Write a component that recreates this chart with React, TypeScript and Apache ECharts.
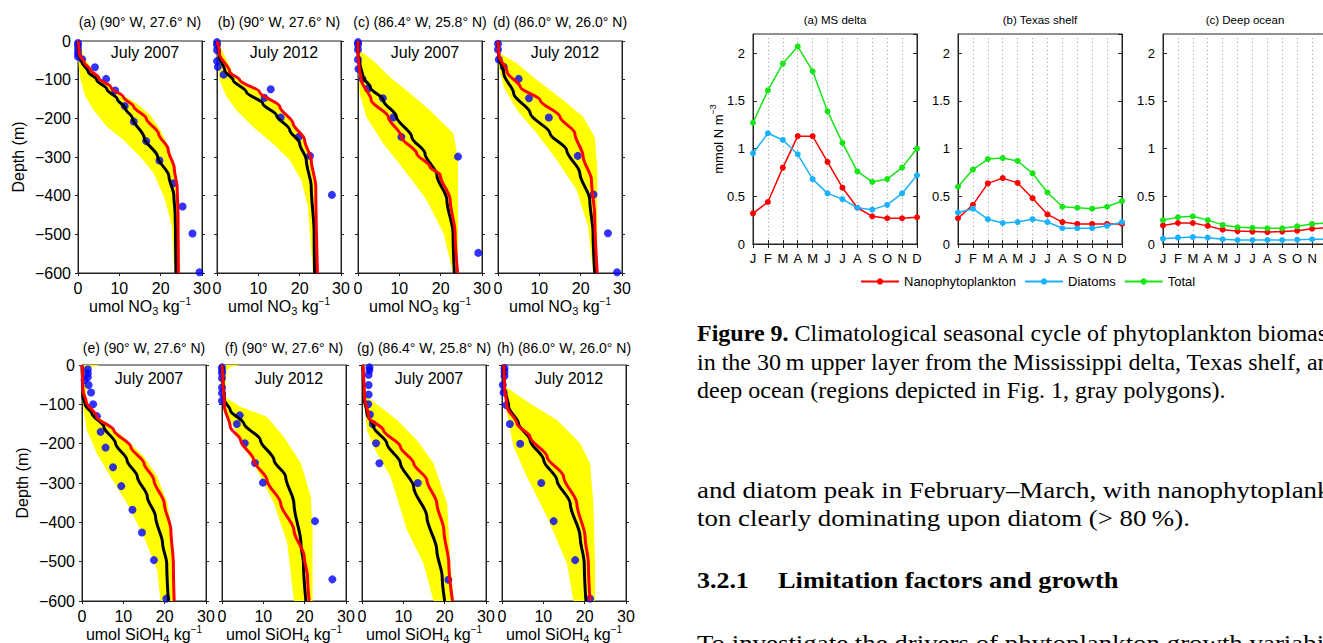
import React, { useEffect, useRef } from 'react';
import * as echarts from 'echarts';

const SANS = 'Liberation Sans, Arial, Helvetica, sans-serif';
const SERIF = 'Liberation Serif, Times New Roman, serif';

// ---------- Profile panels: [concentration, depth (m)] ----------
// (a) NO3, 90W 27.6N, July 2007
const aObs = [[0, -5], [0, -12], [0, -22], [0, -32], [0, -40], [1.0, -47], [4.1, -68], [6.8, -98], [9.0, -128], [11.3, -168], [13.5, -208], [16.5, -259], [19.7, -309], [23.1, -368], [25.3, -428], [27.7, -498], [29.4, -598]];
const aMean = [[0, 0], [0.2, -35], [1, -55], [2.5, -80], [4.5, -100], [7, -125], [9.5, -150], [11.5, -175], [13.2, -200], [16, -250], [19.3, -300], [22, -350], [23.2, -400], [23.5, -450], [23.6, -500], [23.7, -600]];
const aJuly = [[0, 0], [0.3, -35], [1.5, -55], [3, -75], [5, -95], [8, -120], [11, -145], [13.5, -170], [16.5, -200], [19.5, -240], [21.8, -280], [23.3, -330], [24, -380], [24.2, -450], [24.3, -600]];
const aBandL = [[0, 0], [0, -40], [0.2, -67], [0.6, -100], [1.8, -144], [3.8, -179], [7, -222], [11, -256], [15, -299], [18.3, -342], [21.1, -411], [22.7, -480], [23.3, -600]];
const aBandR = [[0.5, 0], [1.4, -41], [3.8, -80], [6.2, -106], [10.2, -136], [14.3, -162], [17.5, -192], [19.9, -230], [21.9, -273], [23.1, -316], [23.8, -377], [24, -450], [24, -600]];

// (b) NO3, 90W 27.6N, July 2012
const bObs = [[0, -3], [0, -11], [0, -24], [0, -52], [0.2, -67], [1.6, -87], [13, -125], [11.5, -147], [15.4, -198], [19.8, -248], [22.5, -297], [27.8, -398]];
const bMean = [[0, 0], [0.6, -41], [1.9, -76], [3.9, -101], [7.1, -132], [11.1, -162], [14.4, -192], [17.6, -230], [20, -265], [21.6, -308], [22.8, -377], [23.5, -497], [23.6, -600]];
const bJuly = [[0, 0], [0.6, -33], [3.1, -80], [5.5, -101], [10.3, -132], [15.2, -170], [18.4, -213], [21.2, -256], [22.8, -308], [23.9, -377], [24.3, -600]];
const bBandL = [[0, 0], [0.2, -58], [0.6, -101], [2.3, -144], [4.7, -179], [8.7, -222], [13.5, -265], [17.6, -308], [20.4, -360], [22, -428], [23.2, -600]];
const bBandR = [[0.8, 0], [0.8, -15], [3.9, -84], [7.1, -110], [11.9, -144], [16, -179], [19.2, -222], [22, -273], [23.6, -342], [24, -411], [24, -600]];

// (c) NO3, 86.4W 25.8N, July 2007
const cObs = [[0, -3], [0, -9], [0, -22], [0, -48], [0.1, -72], [1.1, -98], [2.4, -123], [6, -148], [8.5, -198], [10.5, -248], [24.2, -299], [29.1, -548]];
const cMean = [[0, 0], [0, -33], [0.5, -60], [1.2, -93], [3, -120], [6.1, -153], [9.3, -196], [13, -248], [16.2, -291], [19.1, -347], [21.5, -411], [23, -497], [23.3, -600]];
const cJuly = [[0, 0], [0, -33], [0.3, -70], [0.8, -101], [3.2, -153], [7.3, -196], [10.5, -248], [14.2, -291], [17.4, -325], [19.9, -347], [22.3, -411], [23.5, -497], [24.1, -600]];
const cBandL = [[0, 0], [0, -60], [0.4, -136], [2, -196], [6.1, -265], [11.8, -342], [16.6, -411], [20.7, -497], [23, -600]];
const cBandR = [[0.3, 0], [0.3, -24], [3.6, -50], [7.7, -93], [12.6, -136], [17.4, -179], [23.1, -239], [24.2, -308], [24.2, -600]];

// (d) NO3, 86.0W 26.0N, July 2012
const dObs = [[0, -7], [0, -22], [0.2, -48], [1.4, -67], [5, -98], [7.5, -148], [12.3, -198], [19.3, -297], [23.1, -397], [26.6, -497], [28.8, -598]];
const dMean = [[0, 0], [0.2, -41], [1.4, -84], [3.8, -136], [7.8, -187], [12.6, -239], [16.6, -282], [19.8, -342], [22.2, -411], [23, -497], [23.4, -600]];
const dJuly = [[0, 0], [0.2, -37], [2.2, -80], [5.4, -119], [10.2, -153], [15, -196], [18.6, -239], [20.6, -299], [22.6, -359], [23.4, -454], [24, -600]];
const dBandL = [[0, 0], [0.2, -67], [1.4, -119], [4.6, -179], [9.4, -239], [14.2, -308], [19, -385], [21.8, -480], [23, -600]];
const dBandR = [[0.3, 0], [0.6, -33], [4.6, -58], [9.4, -101], [15.8, -153], [20.6, -196], [23.4, -248], [24, -325], [24, -600]];

// (e) SiOH4, 90W 27.6N, July 2007
const eObs = [[1.4, -11], [1.4, -21], [1.4, -31], [0.6, -38], [1.6, -51], [2.2, -70], [2.7, -100], [3.6, -130], [4.5, -170], [5.7, -210], [7.5, -260], [9.5, -308], [12.2, -368], [14.5, -426], [17.4, -496], [20.4, -594]];
const eMean = [[0, 0], [0.2, -81], [0.8, -102], [2.4, -123], [5.3, -157], [8.1, -199], [10.9, -242], [13.4, -284], [15.8, -335], [17.8, -386], [19.5, -454], [20.5, -505], [20.9, -600]];
const eJuly = [[0, 0], [0.2, -64], [1, -93], [3.6, -132], [7.7, -166], [11.8, -208], [15, -250], [17.4, -293], [19.9, -352], [21.5, -420], [22.1, -505], [22.3, -600]];
const eBandL = [[0, 0], [0, -80], [0.4, -115], [1.2, -166], [3.6, -225], [6.9, -284], [10.9, -352], [15, -437], [18.2, -522], [19, -600]];
const eBandR = [[4.5, 0], [2, -6], [1.4, -15], [1.2, -40], [1, -81], [2, -115], [6.1, -149], [10.9, -191], [15, -233], [18.2, -284], [20.7, -352], [21.9, -437], [22.3, -600]];

// (f) SiOH4, 90W 27.6N, July 2012
const fObs = [[0, -6], [0, -13], [0, -21], [0, -34], [0, -57], [0, -72], [0, -91], [4.3, -128], [3.6, -150], [5.5, -199], [8, -249], [9.9, -299], [22.5, -397], [26.7, -545]];
const fMean = [[0, 0], [0.2, -38], [0.6, -89], [2, -115], [5.3, -149], [9.3, -191], [12.6, -242], [15.4, -284], [17.4, -352], [19.1, -454], [19.7, -505], [20.3, -600]];
const fJuly = [[0, 0], [0.2, -38], [0.6, -106], [2, -157], [4.5, -191], [7.7, -242], [10.9, -293], [14.2, -352], [17.4, -420], [19.9, -488], [20.7, -539], [21.1, -600]];
const fBandL = [[0, 0], [0, -60], [0.2, -81], [1.2, -123], [4.5, -191], [8.5, -267], [12.6, -352], [15.8, -454], [17.4, -600]];
const fBandR = [[4.5, 0], [2, -6], [1.2, -13], [0.6, -81], [4.5, -106], [10.9, -132], [15, -183], [19.1, -250], [21.5, -335], [21.9, -420], [21.9, -600]];

// (g) SiOH4, 86.4W 25.8N, July 2007
const gObs = [[1.8, -6], [1.8, -13], [1.6, -25], [1.6, -51], [1.6, -75], [1.5, -100], [1.9, -126], [2.6, -150], [3.4, -199], [4.2, -250], [13.5, -300], [20.9, -546]];
const gMean = [[0.2, 0], [0.4, -81], [1.2, -123], [2.8, -157], [6, -199], [9.3, -250], [12.5, -310], [15.7, -386], [18.1, -471], [19.4, -539], [20, -600]];
const gJuly = [[0.2, 0], [0.6, -81], [1.6, -132], [5.2, -166], [9.3, -208], [12.5, -250], [15.7, -293], [18.1, -352], [19.8, -420], [21, -505], [21.9, -600]];
const gBandL = [[0, 0], [0, -76], [0.4, -81], [1.2, -166], [3.2, -216], [6.9, -284], [10.9, -420], [14.9, -505], [17.3, -600]];
const gBandR = [[0.6, 0], [0.6, -60], [0.6, -76], [4.4, -106], [8.5, -140], [13.3, -191], [17.3, -250], [20.6, -352], [21.4, -505], [22.2, -600]];

// (h) SiOH4, 86.0W 26.0N, July 2012
const hObs = [[0.6, -8], [0.6, -17], [0.6, -28], [0.2, -51], [0.4, -70], [1, -102], [1.9, -150], [4.4, -200], [9.5, -300], [12.5, -397], [17.7, -496], [21.3, -594]];
const hMean = [[0.4, 0], [0.6, -55], [1.6, -106], [4, -149], [6.8, -191], [10.1, -242], [13.3, -293], [16.5, -352], [18.9, -437], [19.9, -505], [20.3, -600]];
const hJuly = [[0.4, 0], [0.6, -55], [1.2, -106], [3.6, -149], [6.8, -183], [10.9, -233], [14.9, -284], [18.1, -352], [20.1, -437], [20.9, -505], [21.3, -600]];
const hBandL = [[0, 0], [0.4, -55], [1.2, -123], [2.8, -208], [6, -284], [10.9, -386], [15.7, -505], [17.3, -600]];
const hBandR = [[0.8, 0], [0.8, -55], [6.8, -98], [13.3, -140], [18.9, -199], [21.3, -250], [22.1, -352], [22.5, -505], [22.5, -600]];

const profileTitles = ['(a) (90° W, 27.6° N)', '(b) (90° W, 27.6° N)', '(c) (86.4° W, 25.8° N)', '(d) (86.0° W, 26.0° N)', '(e) (90° W, 27.6° N)', '(f) (90° W, 27.6° N)', '(g) (86.4° W, 25.8° N)', '(h) (86.0° W, 26.0° N)'];
const profileMonths = ['July 2007', 'July 2012', 'July 2007', 'July 2012', 'July 2007', 'July 2012', 'July 2007', 'July 2012'];
const depthTicks = [0, -100, -200, -300, -400, -500, -600];
const concTicks = [0, 10, 20, 30];

const profileData = [
  [aObs, aMean, aJuly, aBandL, aBandR],
  [bObs, bMean, bJuly, bBandL, bBandR],
  [cObs, cMean, cJuly, cBandL, cBandR],
  [dObs, dMean, dJuly, dBandL, dBandR],
  [eObs, eMean, eJuly, eBandL, eBandR],
  [fObs, fMean, fJuly, fBandL, fBandR],
  [gObs, gMean, gJuly, gBandL, gBandR],
  [hObs, hMean, hJuly, hBandL, hBandR],
];

// ---------- Seasonal cycle (mmol N m-3) ----------
const MONTHS = ['Jan', 'Feb', 'Mar', 'Apr', 'May', 'Jun', 'Jul', 'Aug', 'Sep', 'Oct', 'Nov', 'Dec'];
const seasonalTitles = ['(a) MS delta', '(b) Texas shelf', '(c) Deep ocean'];
const msNano = [0.32, 0.44, 0.80, 1.13, 1.13, 0.86, 0.59, 0.38, 0.29, 0.27, 0.27, 0.28];
const msDiatoms = [0.95, 1.16, 1.09, 0.94, 0.68, 0.53, 0.47, 0.38, 0.36, 0.41, 0.53, 0.72];
const msTotal = [1.27, 1.61, 1.89, 2.07, 1.81, 1.39, 1.06, 0.76, 0.65, 0.68, 0.80, 1.00];
const txNano = [0.27, 0.41, 0.635, 0.69, 0.64, 0.48, 0.31, 0.23, 0.21, 0.21, 0.21, 0.21];
const txDiatoms = [0.33, 0.37, 0.26, 0.22, 0.23, 0.26, 0.23, 0.165, 0.165, 0.165, 0.19, 0.23];
const txTotal = [0.60, 0.78, 0.89, 0.90, 0.87, 0.74, 0.54, 0.39, 0.38, 0.37, 0.39, 0.45];
const doNano = [0.195, 0.22, 0.22, 0.19, 0.15, 0.135, 0.13, 0.125, 0.13, 0.14, 0.16, 0.17];
const doDiatoms = [0.056, 0.066, 0.073, 0.066, 0.05, 0.042, 0.042, 0.042, 0.042, 0.045, 0.05, 0.05];
const doTotal = [0.25, 0.28, 0.29, 0.25, 0.20, 0.175, 0.17, 0.165, 0.165, 0.185, 0.21, 0.22];
const seasonalData = [
  [msNano, msDiatoms, msTotal],
  [txNano, txDiatoms, txTotal],
  [doNano, doDiatoms, doTotal],
];
const groupNames = ['Nanophytoplankton', 'Diatoms', 'Total'];
const groupColors = ['#ff0000', '#1ab2ff', '#16e616'];

// caption and body text lines
const captionLines = [
  '{b|Figure 9.} Climatological seasonal cycle of phytoplankton biomass',
  'in the 30\u2009m upper layer from the Mississippi delta, Texas shelf, and',
  'deep ocean (regions depicted in Fig. 1, gray polygons).',
];
const bodyLines1 = ['and diatom peak in February–March, with nanophytoplank-', 'ton clearly dominating upon diatom (> 80\u2009%).'];
const sectionNum = '3.2.1';
const sectionTitle = 'Limitation factors and growth';
const bodyLine2 = 'To investigate the drivers of phytoplankton growth variability';

const TOP_LEFTS = [78, 217, 358, 498];
const BOT_LEFTS = [82, 222, 362, 502];
const SEA_LEFTS = [753, 958, 1163];

const minus = (v: number) => (v < 0 ? '\u2212' + Math.abs(v) : String(v));

function txt(x: number, y: number, text: string, size: number, align = 'center', extra: any = {}, scaleX = 1) {
  return {
    type: 'text', x, y, scaleX, silent: true,
    style: {
      text, fontSize: size, fontFamily: SANS, fill: '#000',
      align, textAlign: align, verticalAlign: 'middle', textVerticalAlign: 'middle', ...extra,
    },
  };
}

export default function App() {
  const ref = useRef<HTMLDivElement>(null);
  useEffect(() => {
    const chart = echarts.init(ref.current as HTMLDivElement, null, { renderer: 'svg' });
    const grid: any[] = [];
    const xAxis: any[] = [];
    const yAxis: any[] = [];
    const series: any[] = [];
    const graphic: any[] = [];

    profileData.forEach((pd, i) => {
      const row = i < 4 ? 0 : 1;
      const col = i % 4;
      const left = row === 0 ? TOP_LEFTS[col] : BOT_LEFTS[col];
      const top = row === 0 ? 41 : 365;
      const height = row === 0 ? 232 : 236;
      const width = 124;
      const gi = grid.length;
      grid.push({ left, top, width, height, show: true, borderColor: '#222', borderWidth: 1, backgroundColor: 'transparent', outerBoundsMode: 'none', containLabel: false });
      const sub = row === 0 ? '3' : '4';
      const sp = row === 0 ? 'NO' : 'SiOH';
      const xi = xAxis.length;
      xAxis.push({
        type: 'value', gridIndex: gi, min: concTicks[0], max: concTicks[concTicks.length - 1], interval: 10, position: 'bottom',
        axisLine: { show: true, onZero: false, lineStyle: { color: '#222', width: 1 } },
        axisTick: { show: true, inside: false, length: 3, lineStyle: { color: '#222' } },
        axisLabel: { show: true, color: '#000', fontSize: 16, fontFamily: SANS, margin: 7 },
        splitLine: { show: false },
        name: `{m|umol ${sp}}{s|${sub}}{m| kg}{p|\u22121}`,
        nameLocation: 'middle', nameGap: 23, nameMoveOverlap: false,
        nameTextStyle: {
          color: '#000', fontFamily: SANS, fontSize: 16,
          rich: {
            m: { fontSize: 16, lineHeight: 20, fontFamily: SANS, color: '#000' },
            s: { fontSize: 11, lineHeight: 2, verticalAlign: 'bottom', fontFamily: SANS, color: '#000' },
            p: { fontSize: 10, lineHeight: 8, verticalAlign: 'top', fontFamily: SANS, color: '#000' },
          },
        },
      });
      const yi = yAxis.length;
      yAxis.push({
        type: 'value', gridIndex: gi, min: depthTicks[depthTicks.length - 1], max: depthTicks[0], interval: 100, position: 'left',
        axisLine: { show: true, onZero: false, lineStyle: { color: '#222', width: 1 } },
        axisTick: { show: true, inside: false, length: 3, lineStyle: { color: '#222' } },
        axisLabel: { show: col === 0, color: '#000', fontSize: 16, fontFamily: SANS, margin: 7, formatter: (v: number) => minus(v) },
        splitLine: { show: false },
        name: col === 0 ? 'Depth (m)' : '',
        nameLocation: 'middle', nameGap: 52, nameRotate: 90, nameMoveOverlap: false,
        nameTextStyle: { color: '#000', fontFamily: SANS, fontSize: 16 },
      });
      yAxis.push({
        type: 'value', gridIndex: gi, min: -600, max: 0, interval: 100, position: 'right',
        axisLine: { show: true, onZero: false, lineStyle: { color: '#222', width: 1 } },
        axisTick: { show: true, inside: false, length: 3, lineStyle: { color: '#222' } },
        axisLabel: { show: false }, splitLine: { show: false },
      });
      const [obs, mean, july, bandL, bandR] = pd as any[];
      series.push({
        type: 'custom', xAxisIndex: xi, yAxisIndex: yi, data: [[0, 0]], silent: true, clip: true,
        renderItem: (params: any, api: any) => {
          if (params.dataIndex !== 0) return null;
          const pts = bandL.map((p: number[]) => api.coord(p)).concat(
            bandR.slice().reverse().map((p: number[]) => api.coord(p)));
          return { type: 'polygon', shape: { points: pts }, style: { fill: '#ffff00', stroke: 'none' } };
        },
      });
      series.push({
        type: 'line', name: 'mean' + i, xAxisIndex: xi, yAxisIndex: yi, data: mean, showSymbol: false,
        smooth: 0.3, smoothMonotone: 'y', lineStyle: { color: '#000', width: 3 }, itemStyle: { color: '#000' }, silent: true,
      });
      series.push({
        type: 'line', name: 'july' + i, xAxisIndex: xi, yAxisIndex: yi, data: july, showSymbol: false,
        smooth: 0.3, smoothMonotone: 'y', lineStyle: { color: '#ff0000', width: 3 }, itemStyle: { color: '#ff0000' }, silent: true,
      });
      series.push({
        type: 'scatter', name: 'obs' + i, xAxisIndex: xi, yAxisIndex: yi, data: obs, symbol: 'circle', symbolSize: 8,
        itemStyle: { color: '#0000ff' }, silent: true,
      });
      const cx = left + width / 2;
      graphic.push(txt(cx, row === 0 ? 22 : 348, profileTitles[i], 14));
      graphic.push(txt(cx + 5, row === 0 ? 52 : 378, profileMonths[i], 16));
    });

    seasonalData.forEach((sd, k) => {
      const left = SEA_LEFTS[k];
      const gi = grid.length;
      grid.push({ left, top: 34, width: 164, height: 210, show: true, borderColor: '#222', borderWidth: 1, backgroundColor: 'transparent', outerBoundsMode: 'none', containLabel: false });
      const xi = xAxis.length;
      xAxis.push({
        type: 'category', gridIndex: gi, data: MONTHS, boundaryGap: false, position: 'bottom',
        axisLine: { show: true, lineStyle: { color: '#222' } },
        axisTick: { show: true, inside: true, length: 4, interval: 0, lineStyle: { color: '#222' } },
        axisLabel: { show: true, interval: 0, color: '#000', fontSize: 13, fontFamily: SANS, margin: 8, formatter: (v: string) => v.charAt(0) },
        splitLine: { show: true, interval: 0, lineStyle: { color: '#9a9a9a', type: [1, 3], width: 1 } },
      });
      xAxis.push({
        type: 'category', gridIndex: gi, data: MONTHS, boundaryGap: false, position: 'top',
        axisLine: { show: true, lineStyle: { color: '#222' } },
        axisTick: { show: true, inside: true, length: 4, interval: 0, lineStyle: { color: '#222' } },
        axisLabel: { show: false }, splitLine: { show: false },
      });
      const yi = yAxis.length;
      yAxis.push({
        type: 'value', gridIndex: gi, min: 0, max: 2.2, interval: 0.5, position: 'left',
        axisLine: { show: true, lineStyle: { color: '#222' } },
        axisTick: { show: true, inside: true, length: 4, lineStyle: { color: '#222' } },
        axisLabel: { show: true, showMaxLabel: false, color: '#000', fontSize: 13, fontFamily: SANS, margin: 8, formatter: (v: number) => String(v) },
        splitLine: { show: false },
        name: k === 0 ? '{m|mmol N m}{p|\u22123}' : '',
        nameLocation: 'middle', nameGap: 25, nameRotate: 90, nameMoveOverlap: false,
        nameTextStyle: {
          color: '#000', fontFamily: SANS, fontSize: 13,
          rich: {
            m: { fontSize: 13, lineHeight: 20, fontFamily: SANS, color: '#000' },
            p: { fontSize: 9, lineHeight: 10, verticalAlign: 'top', fontFamily: SANS, color: '#000' },
          },
        },
      });
      yAxis.push({
        type: 'value', gridIndex: gi, min: 0, max: 2.2, interval: 0.5, position: 'right',
        axisLine: { show: true, lineStyle: { color: '#222' } },
        axisTick: { show: true, inside: true, length: 4, lineStyle: { color: '#222' } },
        axisLabel: { show: false }, splitLine: { show: false },
      });
      sd.forEach((vals, j) => {
        series.push({
          type: 'line', name: groupNames[j], xAxisIndex: xi, yAxisIndex: yi, data: vals,
          symbol: 'circle', symbolSize: 6, showSymbol: true,
          lineStyle: { color: groupColors[j], width: 1.5 }, itemStyle: { color: groupColors[j] }, silent: true,
        });
      });
      graphic.push(txt(left + 82, 20, seasonalTitles[k], 11.5));
    });

    // caption and body text
    const FS = 24;
    const serifStyle = { fontFamily: SERIF, fontSize: FS };
    const capY = [333, 362, 390];
    captionLines.forEach((t, i) => {
      graphic.push(txt(697, capY[i], t, FS, 'left', {
        fontFamily: SERIF,
        rich: { b: { fontWeight: 'bold', fontFamily: SERIF, fontSize: FS, fill: '#000', color: '#000' } },
      }, 1.0));
    });
    bodyLines1.forEach((t, i) => {
      graphic.push(txt(697, [490, 518][i], t, FS, 'left', serifStyle, 1.12));
    });
    graphic.push(txt(697, 580, sectionNum, FS, 'left', { ...serifStyle, fontWeight: 'bold' }, 1.08));
    graphic.push(txt(778, 580, sectionTitle, FS, 'left', { ...serifStyle, fontWeight: 'bold' }, 1.1));
    graphic.push(txt(697, 643, bodyLine2, FS, 'left', serifStyle, 1.12));

    chart.setOption({
      animation: false,
      backgroundColor: '#ffffff',
      textStyle: { fontFamily: SANS },
      grid, xAxis, yAxis, series, graphic,
      legend: {
        data: groupNames, left: 860, top: 275, padding: 0, itemWidth: 38, itemHeight: 8, itemGap: 8,
        textStyle: { color: '#000', fontSize: 13, fontFamily: SANS },
        selectedMode: false,
      },
    });
    return () => chart.dispose();
  }, []);
  return <div ref={ref} style={{ position: 'fixed', left: 0, top: 0, width: 1323, height: 643, background: '#fff' }} />;
}
